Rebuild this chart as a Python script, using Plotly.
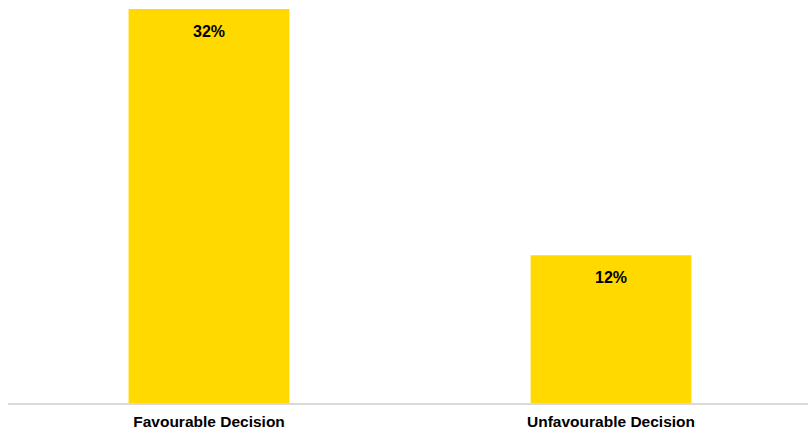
import plotly.graph_objects as go

# Share of decisions by outcome (%)
categories = ["Favourable Decision", "Unfavourable Decision"]
values = [32, 12]
labels = ["32%", "12%"]

BAR_COLOR = "#FFD900"
FONT = "Liberation Sans, Arial, sans-serif"

fig = go.Figure(
    go.Bar(
        x=categories,
        y=values,
        marker=dict(color=BAR_COLOR, line=dict(width=0)),
        width=0.4,
        hoverinfo="skip",
    )
)

# Value labels sitting just inside the top of each bar
for cat, val, lab in zip(categories, values, labels):
    fig.add_annotation(
        x=cat, y=val, text=f"<b>{lab}</b>",
        showarrow=False, yanchor="top", yshift=-12,
        font=dict(family=FONT, size=16, color="#000000"),
    )

fig.update_layout(
    width=808, height=433,
    margin=dict(l=8, r=0, t=9, b=30),
    paper_bgcolor="white", plot_bgcolor="white",
    showlegend=False,
    font=dict(family=FONT),
)
fig.update_xaxes(
    range=[-0.5, 1.49],
    showline=True, linecolor="#D9D9D9", linewidth=2,
    showgrid=False, ticks="", ticklabelstandoff=3,
    tickfont=dict(family=FONT, size=15.5, color="#000000", weight="bold"),
)
fig.update_yaxes(
    range=[0, 32], visible=False, showgrid=False, zeroline=False,
)

fig.write_html("out.html")
